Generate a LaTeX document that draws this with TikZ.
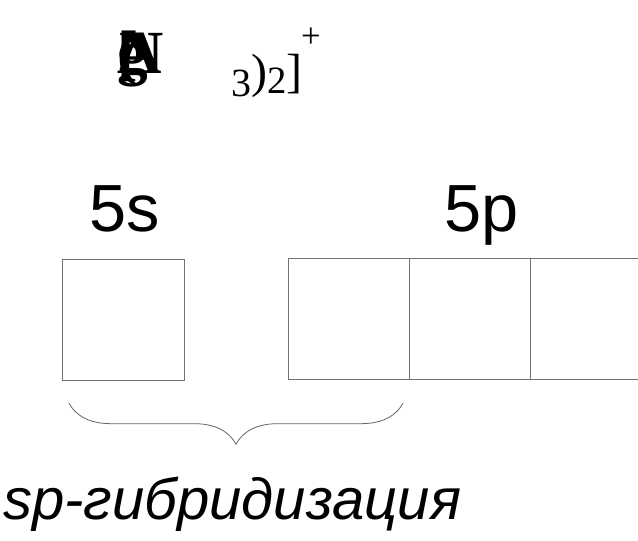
\documentclass[tikz,border=0pt]{standalone}
\usepackage{fontspec}
\setmainfont{Liberation Serif}
\setsansfont{Liberation Sans}
\usetikzlibrary{decorations.pathreplacing}
\begin{document}
\begin{tikzpicture}[x=0.75pt,y=-0.75pt,
  orb/.style={draw=black!55, line width=0.75pt, minimum width=91.5pt, minimum height=90.75pt, inner sep=0pt, outer sep=0pt},
  lbl/.style={font=\sffamily\fontsize{50}{56}\selectfont, inner sep=0pt, anchor=base},
  stack/.style={font=\bfseries\fontsize{46}{50}\selectfont, inner sep=0pt, anchor=base west},
  hyb/.style={font=\sffamily\itshape\fontsize{43.5}{50}\selectfont, inner sep=0pt, anchor=base west}]
\useasboundingbox (0,0) rectangle (638,540);
\fill[white] (0,0) rectangle (638,540);
% formula (glyphs overlapping as in the picture)
\node[stack] (g1) at (117,73) {[};
\node[stack] (g2) at (117,73) {A};
\node[stack] (g3) at (117,73) {g};
\node[stack] (g4) at (117,73) {(};
\node[stack] (g5) at (119,73) {N};
\node[inner sep=0pt, anchor=base west, font=\fontsize{36}{40}\selectfont] (tail) at (231,87)
  {\raisebox{-7pt}{\fontsize{30}{34}\selectfont 3})\raisebox{-5pt}{\fontsize{29}{34}\selectfont 2}]\kern-1pt\raisebox{30pt}{\fontsize{26}{30}\selectfont +}};
% labels
\node[lbl] (l5s) at (125,231) {5s};
\node[lbl] (l5p) at (482,231) {5p};
% orbitals
\begin{scope}
\clip (0,0) rectangle (638,540);
\node[orb] (s)  at (123,319.5) {};
\node[orb, minimum width=90.75pt] (p1) at (348.5,318.5) {};
\node[orb, minimum width=90.75pt] (p2) at (469.5,318.5) {};
\node[orb, minimum width=90.75pt] (p3) at (590.5,318.5) {};
\end{scope}
% brace
\coordinate (bl) at (69,403);
\coordinate (br) at (403,403);
\draw[black!60, line width=0.6pt, decorate, decoration={brace, mirror, amplitude=31pt}] (bl) -- (br);
% hybridisation text
\node[hyb] (h) at (3,519) {sp-гибридизация};
\end{tikzpicture}
\end{document}
